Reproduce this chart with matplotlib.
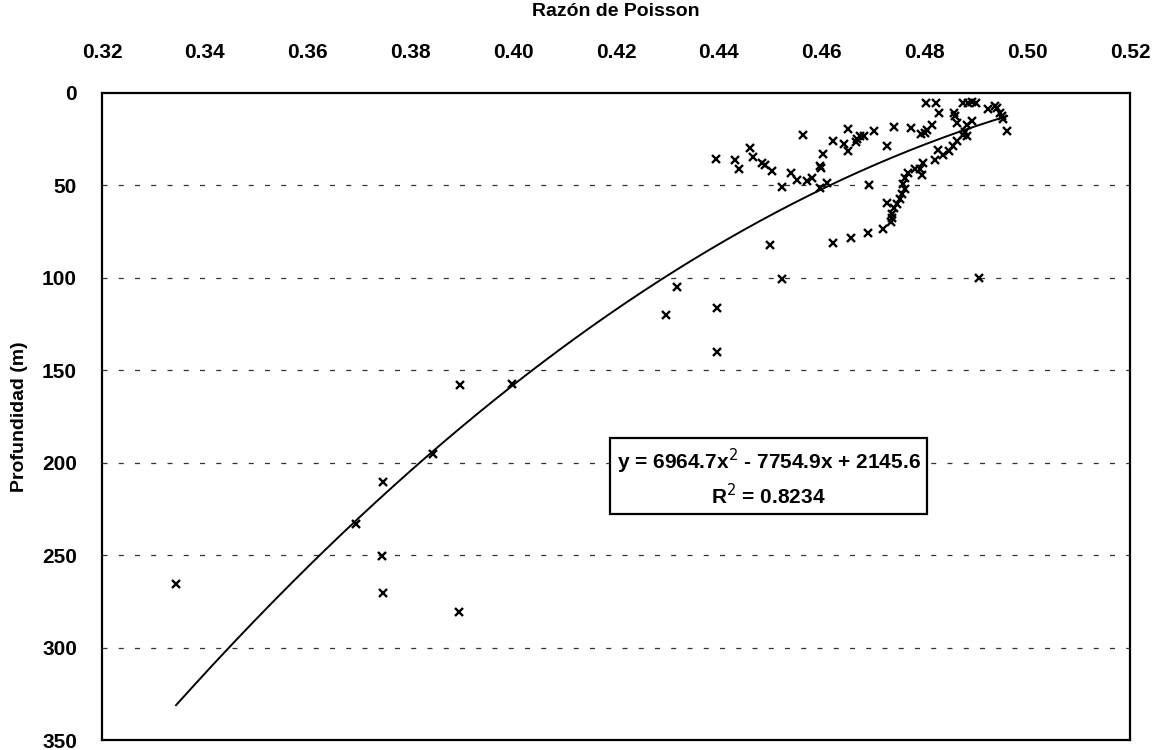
import matplotlib
matplotlib.use("Agg")
import matplotlib.pyplot as plt
import numpy as np

plt.rcParams['font.family'] = ['Liberation Sans', 'DejaVu Sans']

# Data: Poisson ratio vs depth (m)
poisson = [
    0.4394, 0.4431, 0.4439, 0.4460, 0.4466, 0.4484, 0.4489, 0.4503, 0.4522, 0.4540,
    0.4553, 0.4563, 0.4571, 0.4581, 0.4597, 0.4599, 0.4603, 0.4597, 0.4610, 0.4622,
    0.4643, 0.4651, 0.4652, 0.4666, 0.4669, 0.4675, 0.4683, 0.4702, 0.4693,
    0.4500, 0.4623, 0.4657, 0.4690,
    0.4803, 0.4822, 0.4829, 0.4858, 0.4860, 0.4876, 0.4885, 0.4893, 0.4900, 0.4923,
    0.4937, 0.4942, 0.4947, 0.4950, 0.4953, 0.4961, 0.4863, 0.4882, 0.4892, 0.4879,
    0.4876, 0.4882, 0.4815, 0.4806, 0.4801, 0.4793, 0.4774, 0.4741, 0.4727, 0.4863,
    0.4856, 0.4847, 0.4837, 0.4827, 0.4821, 0.4798, 0.4791, 0.4795, 0.4781, 0.4769,
    0.4762, 0.4759, 0.4762, 0.4756, 0.4753, 0.4747, 0.4727, 0.4740, 0.4737, 0.4737,
    0.4735, 0.4720,
    0.4906, 0.4522, 0.4318, 0.4297, 0.4397, 0.4397, 0.3896, 0.3998, 0.3843, 0.3746,
    0.3694, 0.3745, 0.3344, 0.3746, 0.3894,
]
depth = [
    35.7, 36.4, 41.1, 29.8, 34.6, 37.9, 38.9, 42.4, 50.8, 43.3,
    46.9, 22.6, 47.8, 45.9, 39.7, 40.7, 32.8, 51.3, 48.6, 25.8,
    27.5, 19.6, 31.6, 26.7, 24.9, 23.1, 23.5, 20.8, 49.5,
    82.4, 81.0, 78.6, 75.9,
    5.6, 5.6, 10.6, 10.6, 12.4, 5.6, 5.2, 4.8, 5.6, 8.8,
    7.0, 8.3, 10.9, 12.7, 14.2, 20.8, 16.3, 17.2, 14.9, 21.3,
    22.6, 23.5, 17.2, 19.9, 21.7, 22.1, 19.0, 18.6, 28.9, 26.2,
    28.9, 31.2, 33.4, 30.7, 36.1, 37.9, 41.1, 44.2, 40.9, 43.2,
    45.9, 49.0, 52.2, 54.9, 57.2, 59.9, 59.4, 62.1, 65.2, 67.5,
    69.8, 73.4,
    100.0, 100.5, 104.8, 120.2, 116.3, 140.2, 157.8, 157.6, 195.5, 210.6,
    233.2, 250.2, 265.5, 270.3, 280.7,
]

# Trend line coefficients (from the chart's equation)
coef_a, coef_b, coef_c = 6964.7, -7754.9, 2145.6
eq_text = "y = 6964.7x$^{2}$ - 7754.9x + 2145.6"
r2_text = "R$^{2}$ = 0.8234"

x_ticks = [0.32, 0.34, 0.36, 0.38, 0.40, 0.42, 0.44, 0.46, 0.48, 0.50, 0.52]
y_ticks = [0, 50, 100, 150, 200, 250, 300, 350]

fig = plt.figure(figsize=(11.68, 7.5), dpi=100)
ax = fig.add_axes([102/1168, 10/750, (1130-102)/1168, (740-93)/750])

# dashed gridlines
for yv in y_ticks[1:-1]:
    ax.axhline(yv, color='#333333', lw=0.9, ls=(0, (4, 9)), zorder=1)

ax.plot(poisson, depth, ls='none', marker='x', ms=6, mew=1.7, color='black', zorder=3)

xs = np.linspace(min(poisson), max(poisson), 300)
ax.plot(xs, coef_a * xs**2 + coef_b * xs + coef_c, color='black', lw=1.4, zorder=2)

ax.set_xlim(0.32, 0.52)
ax.set_ylim(350, 0)
ax.xaxis.tick_top()
ax.xaxis.set_label_position('top')
ax.set_xticks(x_ticks)
ax.set_xticklabels([f"{v:.2f}" for v in x_ticks])
ax.set_yticks(y_ticks)
ax.set_yticklabels([str(v) for v in y_ticks])
ax.tick_params(axis='x', length=0, pad=22, labelsize=15)
ax.tick_params(axis='y', length=0, pad=18, labelsize=15)
for lab in ax.get_xticklabels() + ax.get_yticklabels():
    lab.set_fontweight('bold')

ax.set_xlabel("Razón de Poisson", fontsize=14, fontweight='bold', labelpad=20)
ax.set_ylabel("Profundidad (m)", fontsize=14, fontweight='bold', labelpad=10)

for s in ax.spines.values():
    s.set_linewidth(1.6)
    s.set_color('black')

ax.text(0.4497, 208, eq_text + "\n" + r2_text, ha='center', va='center',
        fontsize=15, fontweight='bold', linespacing=1.3,
        bbox=dict(boxstyle='square,pad=0.3', fc='white', ec='black', lw=1.6), zorder=4)

fig.savefig("out.png", dpi=100)
